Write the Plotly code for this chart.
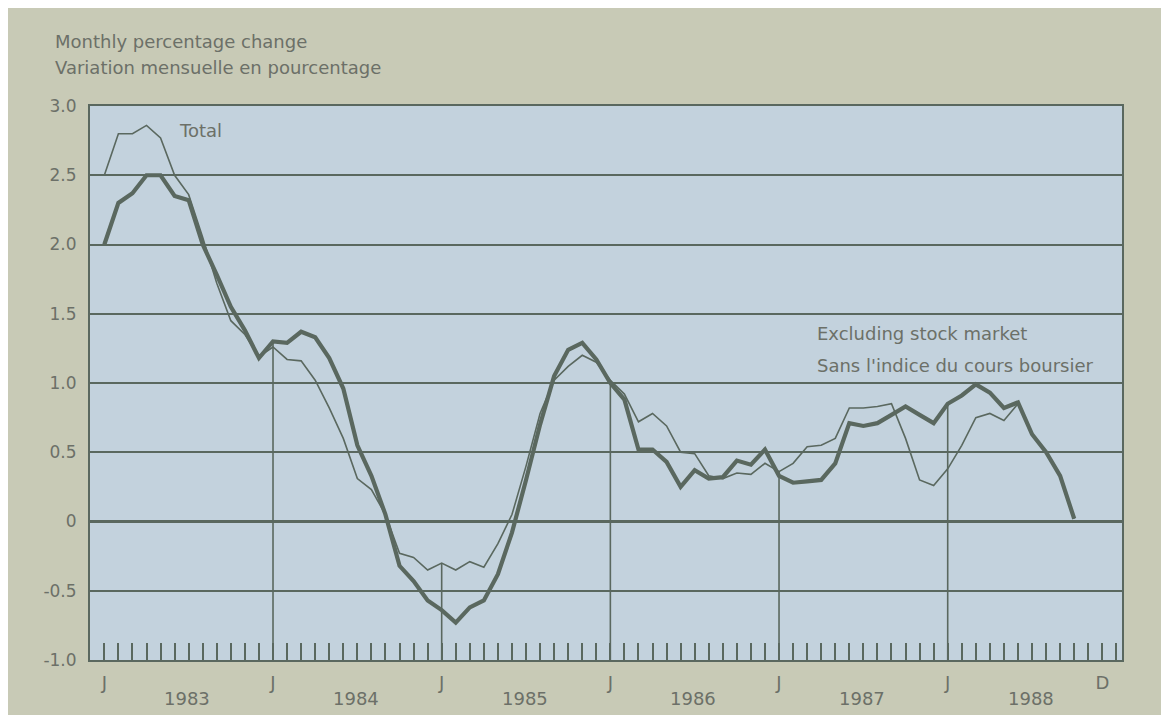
import plotly.graph_objects as go

# ---- data (monthly, Jan 1983 = index 0 ... Dec 1988 = index 71) ----
month_index = list(range(72))

total = [
    2.50, 2.80, 2.80, 2.86, 2.77, 2.50, 2.36, 2.05, 1.72, 1.45, 1.35, 1.19,   # 1983
    1.26, 1.17, 1.16, 1.02, 0.82, 0.60, 0.31, 0.23, 0.05, -0.23, -0.26, -0.35,  # 1984
    -0.30, -0.35, -0.29, -0.33, -0.16, 0.05, 0.40, 0.78, 1.02, 1.12, 1.20, 1.15,  # 1985
    1.02, 0.92, 0.72, 0.78, 0.69, 0.50, 0.49, 0.33, 0.31, 0.35, 0.34, 0.42,     # 1986
    0.36, 0.42, 0.54, 0.55, 0.60, 0.82, 0.82, 0.83, 0.85, 0.60, 0.30, 0.26,     # 1987
    0.38, 0.55, 0.75, 0.78, 0.73, 0.85, 0.63, 0.50, 0.33, 0.02, None, None,     # 1988
]

excluding_stock = [
    2.00, 2.30, 2.37, 2.50, 2.50, 2.35, 2.32, 2.00, 1.78, 1.55, 1.38, 1.18,   # 1983
    1.30, 1.29, 1.37, 1.33, 1.18, 0.96, 0.55, 0.33, 0.05, -0.32, -0.43, -0.57,  # 1984
    -0.64, -0.73, -0.62, -0.57, -0.38, -0.08, 0.30, 0.70, 1.05, 1.24, 1.29, 1.17,  # 1985
    1.00, 0.88, 0.52, 0.52, 0.43, 0.25, 0.37, 0.31, 0.32, 0.44, 0.41, 0.52,     # 1986
    0.33, 0.28, 0.29, 0.30, 0.42, 0.71, 0.69, 0.71, 0.77, 0.83, 0.77, 0.71,     # 1987
    0.85, 0.91, 0.99, 0.93, 0.82, 0.86, 0.63, 0.50, 0.33, 0.02, None, None,     # 1988
]

years = ["1983", "1984", "1985", "1986", "1987", "1988"]
x_tick_vals = [0, 12, 24, 36, 48, 60, 71]
x_tick_text = ["J", "J", "J", "J", "J", "J", "D"]
y_tick_vals = [3.0, 2.5, 2.0, 1.5, 1.0, 0.5, 0.0, -0.5, -1.0]
y_tick_text = ["3.0", "2.5", "2.0", "1.5", "1.0", "0.5", "0", "-0.5", "-1.0"]

title_lines = ["Monthly percentage change", "Variation mensuelle en pourcentage"]
total_label = "Total"
excl_labels = ["Excluding stock market", "Sans l'indice du cours boursier"]

# ---- styling ----
FONT = "DejaVu Sans"
TXT = "#6c7068"
INK = "#5a685f"
PLOT_BG = "#c3d2dd"
PAPER_BG = "#c8cab6"

OFF = 8                      # page margin of the html body
W, H = 1169 - 2 * OFF, 723 - 2 * OFF
PLOT_L, PLOT_R, PLOT_T, PLOT_B = 90, 1122, 106, 660   # page pixels
ML, MR = PLOT_L - OFF, W - (PLOT_R - OFF)
MT, MB = PLOT_T - OFF, H - (PLOT_B - OFF)
PW, PH = W - ML - MR, H - MT - MB
Y_MIN, Y_MAX = -1.0, 3.0


def px_x(px):
    return (px - OFF - ML) / PW


def px_y(py):
    return (H - MB - (py - OFF)) / PH


fig = go.Figure()

# drop lines at each January (from axis bottom up to the higher curve)
drop_x, drop_y = [], []
for i in range(12, 61, 12):
    vals = [v for v in (total[i], excluding_stock[i]) if v is not None]
    drop_x += [month_index[i], month_index[i], None]
    drop_y += [Y_MIN, max(vals), None]
fig.add_trace(go.Scatter(x=drop_x, y=drop_y, mode="lines",
                         line=dict(color=INK, width=1.6),
                         hoverinfo="skip", showlegend=False))

fig.add_trace(go.Scatter(x=month_index, y=total, mode="lines", name="Total",
                         line=dict(color=INK, width=1.6), showlegend=False))
fig.add_trace(go.Scatter(x=month_index, y=excluding_stock, mode="lines",
                         name="Excluding stock market",
                         line=dict(color=INK, width=4.2), showlegend=False))

annotations = []
for k, line in enumerate(title_lines):
    annotations.append(dict(text=line, xref="paper", yref="paper",
                            x=px_x(53), y=px_y(41 + 26 * k),
                            xanchor="left", yanchor="middle", showarrow=False,
                            font=dict(family=FONT, size=18, color=TXT)))
annotations.append(dict(text=total_label, xref="paper", yref="paper",
                        x=px_x(177), y=px_y(131), xanchor="left", yanchor="middle",
                        showarrow=False, font=dict(family=FONT, size=18, color=TXT)))
for k, line in enumerate(excl_labels):
    annotations.append(dict(text=line, xref="paper", yref="paper",
                            x=px_x(815), y=px_y(333 + 32 * k),
                            xanchor="left", yanchor="middle", showarrow=False,
                            font=dict(family=FONT, size=18, color=TXT)))
for k, yr in enumerate(years):
    annotations.append(dict(text=yr, xref="x", yref="paper",
                            x=12 * k + 5.9, y=px_y(698), xanchor="center",
                            yanchor="middle", showarrow=False,
                            font=dict(family=FONT, size=18, color=TXT)))

fig.update_layout(
    width=W, height=H, autosize=False,
    margin=dict(l=ML, r=MR, t=MT, b=MB, pad=0),
    paper_bgcolor=PAPER_BG, plot_bgcolor=PLOT_BG,
    font=dict(family=FONT, size=18, color=TXT),
    annotations=annotations,
    showlegend=False,
)

fig.update_xaxes(
    range=[-1.02, 72.4], showgrid=False, zeroline=False,
    showline=True, mirror=True, linecolor=INK, linewidth=2,
    tickmode="array", tickvals=x_tick_vals, ticktext=x_tick_text,
    ticks="inside", ticklen=17, tickwidth=1.6, tickcolor=INK,
    ticklabelstandoff=5,
    tickfont=dict(family=FONT, size=18, color=TXT),
    minor=dict(ticks="inside", ticklen=17, tickwidth=1.6, tickcolor=INK,
               dtick=1, tick0=0, showgrid=False),
)
fig.update_yaxes(
    range=[Y_MIN, Y_MAX], showgrid=True, gridcolor=INK, gridwidth=2,
    zeroline=True, zerolinecolor=INK, zerolinewidth=2.6,
    showline=True, mirror=True, linecolor=INK, linewidth=2,
    tickmode="array", tickvals=y_tick_vals, ticktext=y_tick_text,
    ticks="", ticklabelstandoff=8,
    tickfont=dict(family=FONT, size=17, color=TXT),
)

fig.write_html("out.html")
